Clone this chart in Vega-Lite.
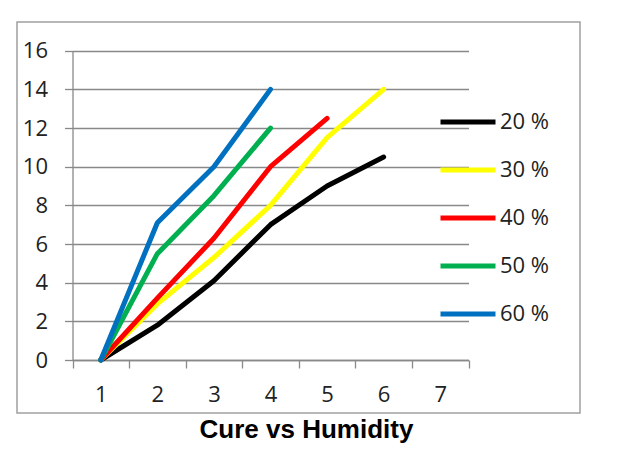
{
  "$schema": "https://vega.github.io/schema/vega-lite/v6.json",
  "autosize": {"type": "none"},
  "width": 563,
  "height": 391,
  "padding": {"left": 17, "top": 22, "right": 47, "bottom": 43},
  "background": "white",
  "title": {
    "text": "Cure vs Humidity",
    "orient": "bottom",
    "anchor": "middle",
    "frame": "group",
    "font": "Liberation Sans",
    "fontSize": 26,
    "fontWeight": "bold",
    "color": "#000000",
    "offset": 4,
    "dx": 8
  },
  "data": {
    "values": [
      {"x": 1, "v": 0, "series": "20 %"},
      {"x": 2, "v": 1.8, "series": "20 %"},
      {"x": 3, "v": 4.1, "series": "20 %"},
      {"x": 4, "v": 7.0, "series": "20 %"},
      {"x": 5, "v": 9.0, "series": "20 %"},
      {"x": 6, "v": 10.5, "series": "20 %"},
      {"x": 1, "v": 0, "series": "30 %"},
      {"x": 2, "v": 2.9, "series": "30 %"},
      {"x": 3, "v": 5.3, "series": "30 %"},
      {"x": 4, "v": 8.0, "series": "30 %"},
      {"x": 5, "v": 11.5, "series": "30 %"},
      {"x": 6, "v": 14.0, "series": "30 %"},
      {"x": 1, "v": 0, "series": "40 %"},
      {"x": 2, "v": 3.2, "series": "40 %"},
      {"x": 3, "v": 6.3, "series": "40 %"},
      {"x": 4, "v": 10.0, "series": "40 %"},
      {"x": 5, "v": 12.5, "series": "40 %"},
      {"x": 1, "v": 0, "series": "50 %"},
      {"x": 2, "v": 5.5, "series": "50 %"},
      {"x": 3, "v": 8.5, "series": "50 %"},
      {"x": 4, "v": 12.0, "series": "50 %"},
      {"x": 1, "v": 0, "series": "60 %"},
      {"x": 2, "v": 7.1, "series": "60 %"},
      {"x": 3, "v": 10.0, "series": "60 %"},
      {"x": 4, "v": 14.0, "series": "60 %"}
    ]
  },
  "mark": {"type": "line", "strokeWidth": 5, "strokeCap": "round", "strokeJoin": "round"},
  "encoding": {
    "x": {
      "field": "x",
      "type": "ordinal",
      "bandPosition": 0.5,
      "scale": {"type": "band", "domain": [1, 2, 3, 4, 5, 6, 7], "range": [55.5, 451.5], "paddingInner": 0, "paddingOuter": 0},
      "axis": {
        "title": null,
        "labelAngle": 0,
        "tickBand": "extent",
        "offset": -53,
        "grid": false,
        "domainColor": "#898989",
        "domainWidth": 1.3,
        "tickColor": "#898989",
        "tickWidth": 1.3,
        "tickSize": 8,
        "labelPadding": 16,
        "labelFont": "Open Sans",
        "labelFontSize": 22,
        "labelColor": "#222222"
      }
    },
    "y": {
      "field": "v",
      "type": "quantitative",
      "scale": {"domain": [0, 16], "range": [338, 28.7], "nice": false},
      "axis": {
        "title": null,
        "values": [0, 2, 4, 6, 8, 10, 12, 14, 16],
        "offset": -55.5,
        "grid": true,
        "gridColor": "#898989",
        "gridWidth": 1.3,
        "domainColor": "#898989",
        "domainWidth": 1.3,
        "tickColor": "#898989",
        "tickWidth": 1.3,
        "tickSize": 8,
        "labelPadding": 17,
        "labelFont": "Open Sans",
        "labelFontSize": 22,
        "labelColor": "#222222"
      }
    },
    "color": {
      "field": "series",
      "type": "nominal",
      "scale": {
        "domain": ["20 %", "30 %", "40 %", "50 %", "60 %"],
        "range": ["#000000", "#FFFF00", "#FF0000", "#00B050", "#0070C0"]
      },
      "legend": {
        "title": null,
        "orient": "none",
        "legendX": 421,
        "legendY": 70,
        "symbolType": "stroke",
        "symbolSize": 3025,
        "symbolStrokeWidth": 5,
        "labelFont": "Open Sans",
        "labelFontSize": 22,
        "labelColor": "#222222",
        "labelOffset": 2,
        "rowPadding": 7,
        "padding": 0
      }
    }
  },
  "config": {
    "view": {"stroke": "#a0a0a0", "strokeWidth": 1.5}
  }
}
